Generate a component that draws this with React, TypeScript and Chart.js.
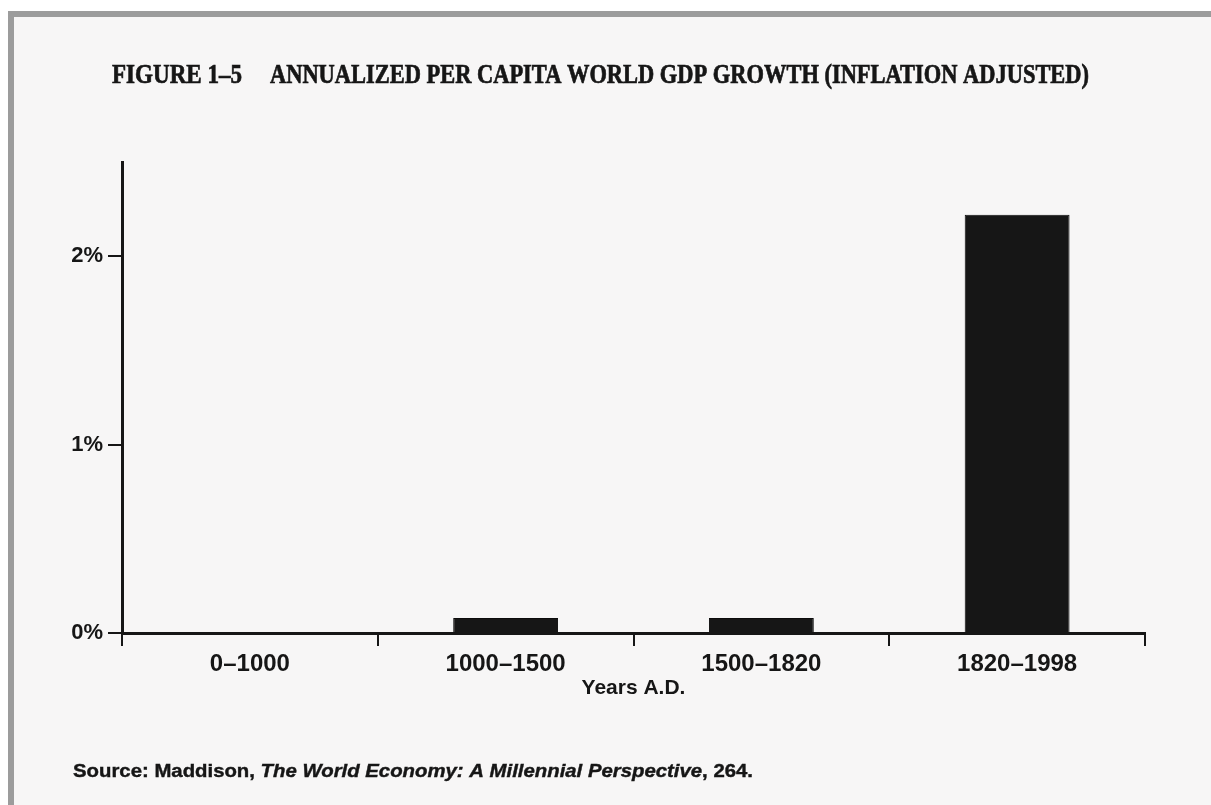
import React, { useEffect, useRef } from "react";
import { Chart, registerables } from "chart.js";

Chart.register(...registerables);

// ---- data ----
const categories = ["0–1000", "1000–1500", "1500–1820", "1820–1998"];
const growthPct = [0, 0.08, 0.08, 2.22];
const yTickValues = [0, 1, 2];
const yMax = 2.5;

const figureLabel = "FIGURE 1–5";
const titleText = "ANNUALIZED PER CAPITA WORLD GDP GROWTH (INFLATION ADJUSTED)";
const xAxisTitle = "Years A.D.";
const sourceParts = [
  { text: "Source: Maddison, ", italic: false },
  { text: "The World Economy: A Millennial Perspective", italic: true },
  { text: ", 264.", italic: false },
];

const INK = "#161616";

const pagePlugin = {
  id: "pagePlugin",
  beforeDraw(chart: any) {
    const { ctx, width, height } = chart;
    ctx.save();
    ctx.fillStyle = "#ffffff";
    ctx.fillRect(0, 0, width, height);
    ctx.fillStyle = "#9c9c9c";
    ctx.fillRect(8, 11, width - 8, height - 11);
    ctx.fillStyle = "#f7f6f6";
    ctx.fillRect(14, 17, width - 14, height - 17);
    ctx.restore();
  },
  afterDraw(chart: any) {
    const ctx = chart.ctx;
    ctx.save();
    ctx.fillStyle = INK;
    ctx.strokeStyle = INK;
    ctx.textBaseline = "alphabetic";
    ctx.textAlign = "left";
    const drawFit = (text: string, x: number, y: number, w: number, font: string, stroke: number) => {
      ctx.font = font;
      const m = ctx.measureText(text).width;
      ctx.save();
      ctx.translate(x, y);
      ctx.scale(w / m, 1);
      ctx.fillText(text, 0, 0);
      if (stroke > 0) {
        ctx.lineWidth = stroke;
        ctx.strokeText(text, 0, 0);
      }
      ctx.restore();
    };
    const serif = 'bold 27px "Liberation Serif", "DejaVu Serif", serif';
    drawFit(figureLabel, 112, 83, 130, serif, 0.7);
    drawFit(titleText, 270, 83, 819, serif, 0.7);

    // source line
    const fontFor = (italic: boolean) =>
      `${italic ? "italic " : ""}bold 18px "Liberation Sans", Arial, sans-serif`;
    let total = 0;
    const widths = sourceParts.map((p) => {
      ctx.font = fontFor(p.italic);
      const w = ctx.measureText(p.text).width;
      total += w;
      return w;
    });
    const targetW = 680;
    const sx = targetW / total;
    ctx.save();
    ctx.translate(73, 777);
    ctx.scale(sx, 1);
    ctx.lineWidth = 0.4;
    let x = 0;
    sourceParts.forEach((p, i) => {
      ctx.font = fontFor(p.italic);
      ctx.fillText(p.text, x, 0);
      ctx.strokeText(p.text, x, 0);
      x += widths[i];
    });
    ctx.restore();
    ctx.restore();
  },
};

export default function App() {
  const canvasRef = useRef<HTMLCanvasElement | null>(null);

  useEffect(() => {
    if (!canvasRef.current) return;
    const chart = new Chart(canvasRef.current, {
      type: "bar",
      data: {
        labels: categories,
        datasets: [
          {
            label: "Annualized per capita GDP growth",
            data: growthPct,
            backgroundColor: INK,
            borderColor: "#0c0c0c",
            borderWidth: 1,
            categoryPercentage: 1,
            barPercentage: 0.41,
          },
        ],
      },
      options: {
        responsive: false,
        animation: false,
        layout: { padding: { left: 0, top: 162, right: 66, bottom: 104 } },
        plugins: {
          legend: { display: false },
          tooltip: { enabled: false },
          title: { display: false },
        },
        scales: {
          x: {
            type: "category",
            offset: true,
            grid: {
              display: true,
              drawOnChartArea: false,
              drawTicks: true,
              tickLength: 13,
              color: INK,
              lineWidth: 2,
              offset: true,
            },
            border: { display: true, color: INK, width: 3 },
            ticks: {
              color: INK,
              font: { family: '"Liberation Sans", Arial, sans-serif', weight: "bold", size: 24 },
              padding: 4,
              maxRotation: 0,
              autoSkip: false,
            },
            title: {
              display: true,
              text: xAxisTitle,
              color: INK,
              font: { family: '"Liberation Sans", Arial, sans-serif', weight: "bold", size: 21 },
              padding: { top: 0, bottom: 0 },
            },
            afterFit: (s: any) => {
              s.height = 68;
            },
          },
          y: {
            type: "linear",
            min: 0,
            max: yMax,
            afterBuildTicks: (s: any) => {
              s.ticks = yTickValues.map((v) => ({ value: v }));
            },
            grid: {
              display: true,
              drawOnChartArea: false,
              drawTicks: true,
              tickLength: 14,
              color: INK,
              lineWidth: 2,
            },
            border: { display: true, color: INK, width: 3 },
            ticks: {
              color: INK,
              font: { family: '"Liberation Sans", Arial, sans-serif', weight: "bold", size: 22 },
              padding: 5,
              callback: (v: any) => `${v}%`,
            },
            afterFit: (s: any) => {
              s.width = 122;
            },
          },
        },
      },
      plugins: [pagePlugin],
    });
    return () => chart.destroy();
  }, []);

  return (
    <div style={{ position: "absolute", left: 0, top: 0, width: 1211, height: 805 }}>
      <canvas ref={canvasRef} width={1211} height={805} style={{ display: "block" }} />
    </div>
  );
}
